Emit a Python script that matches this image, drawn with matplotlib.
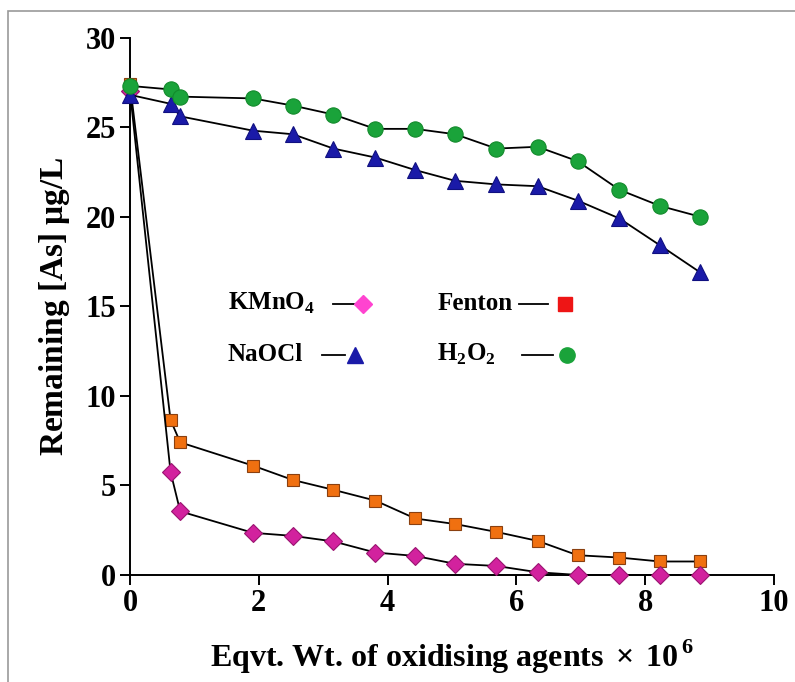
import matplotlib
matplotlib.use("Agg")
import matplotlib.pyplot as plt
from matplotlib.patches import Rectangle

plt.rcParams['font.family'] = ['Liberation Serif', 'DejaVu Serif']
plt.rcParams['font.weight'] = 'bold'
plt.rcParams['mathtext.fontset'] = 'custom'
plt.rcParams['mathtext.rm'] = 'Liberation Serif:bold'
plt.rcParams['mathtext.bf'] = 'Liberation Serif:bold'

# oxidant dose (eqvt. wt. x 10^6), same doses for all four oxidants
dose = [0, 0.63, 0.78, 1.91, 2.53, 3.16, 3.81, 4.43, 5.05, 5.69, 6.33, 6.95, 7.60, 8.23, 8.85]

# remaining arsenic, ug/L
h2o2 = [27.3, 27.1, 26.7, 26.6, 26.2, 25.7, 24.9, 24.9, 24.6, 23.8, 23.9, 23.1, 21.5, 20.6, 20.0]
naocl = [26.8, 26.3, 25.6, 24.8, 24.6, 23.8, 23.3, 22.6, 22.0, 21.8, 21.7, 20.9, 19.9, 18.4, 16.9]
fenton = [27.4, 8.65, 7.4, 6.1, 5.3, 4.75, 4.15, 3.15, 2.84, 2.4, 1.9, 1.1, 0.97, 0.75, 0.75]
kmno4 = [27.0, 5.75, 3.55, 2.35, 2.18, 1.87, 1.25, 1.06, 0.62, 0.5, 0.15, 0.0, 0.0, 0.0, 0.0]

fig = plt.figure(figsize=(7.95, 6.82), dpi=100)
ax = fig.add_axes([0.1635, 0.157, 0.81, 0.788])

line_kw = dict(color='black', lw=1.3, clip_on=False)
ax.plot(dose, fenton, marker='s', ms=9, mfc='#f07010', mec='#8a4010', mew=0.8, zorder=3, **line_kw)
ax.plot(dose, kmno4, marker='D', ms=9.5, mfc='#d2229e', mec='#9a1470', mew=0.8, zorder=4, **line_kw)
ax.plot(dose, naocl, marker='^', ms=11, mfc='#1a1aa8', mec='#101080', mew=0.8, zorder=5, **line_kw)
ax.plot(dose, h2o2, marker='o', ms=11, mfc='#1aa33a', mec='#138a2c', mew=0.8, zorder=6, **line_kw)

ax.set_xlim(0, 10)
ax.set_ylim(0, 30)
ax.set_xticks([0, 2, 4, 6, 8, 10])
ax.set_yticks([0, 5, 10, 15, 20, 25, 30])
ax.spines['top'].set_visible(False)
ax.spines['right'].set_visible(False)
for s in ('left', 'bottom'):
    ax.spines[s].set_linewidth(1.4)
ax.tick_params(direction='out', length=7, width=1.4, labelsize=22, pad=3)
for lab in ax.get_xticklabels() + ax.get_yticklabels():
    lab.set_fontweight('bold')

ax.set_xlabel(r'Eqvt. Wt. of oxidising agents$\,\times\,10^{\,6}$', fontsize=23,
              fontweight='bold', labelpad=14)
ax.set_ylabel(r'Remaining [As] $\mathbf{\mu}$g/L', fontsize=24, fontweight='bold', labelpad=10)

# hand-drawn legend inside the plot area: text x, dash start/end, marker x, row y
leg_items = [
    (0.152, 0.315, 0.348, 0.362, 0.505, r'KMnO$_4$', 'D', '#ff44d0', 9),
    (0.477, 0.604, 0.649, 0.675, 0.505, 'Fenton', 's', '#ee1515', 10),
    (0.152, 0.298, 0.334, 0.349, 0.410, 'NaOCl', '^', '#1a1aa8', 11),
    (0.477, 0.609, 0.657, 0.679, 0.410, r'H$_2$O$_2$', 'o', '#1aa33a', 11),
]
for xt, xd0, xd1, xm, y0, name, mk, col, ms in leg_items:
    ax.text(xt, y0, name, transform=ax.transAxes, fontsize=18, fontweight='bold',
            va='center', ha='left')
    ax.plot([xd0, xd1], [y0, y0], color='black', lw=1.3, transform=ax.transAxes)
    ax.plot([xm], [y0], marker=mk, ms=ms, mfc=col, mec=col, ls='none',
            transform=ax.transAxes)

# thin grey frame around the figure
fig.patches.append(Rectangle((8 / 795, -0.02), 1.0, 1 - 11 / 682 + 0.02,
                             transform=fig.transFigure, fill=False,
                             edgecolor='#999999', lw=1.2))

fig.savefig('out.png', dpi=100)
